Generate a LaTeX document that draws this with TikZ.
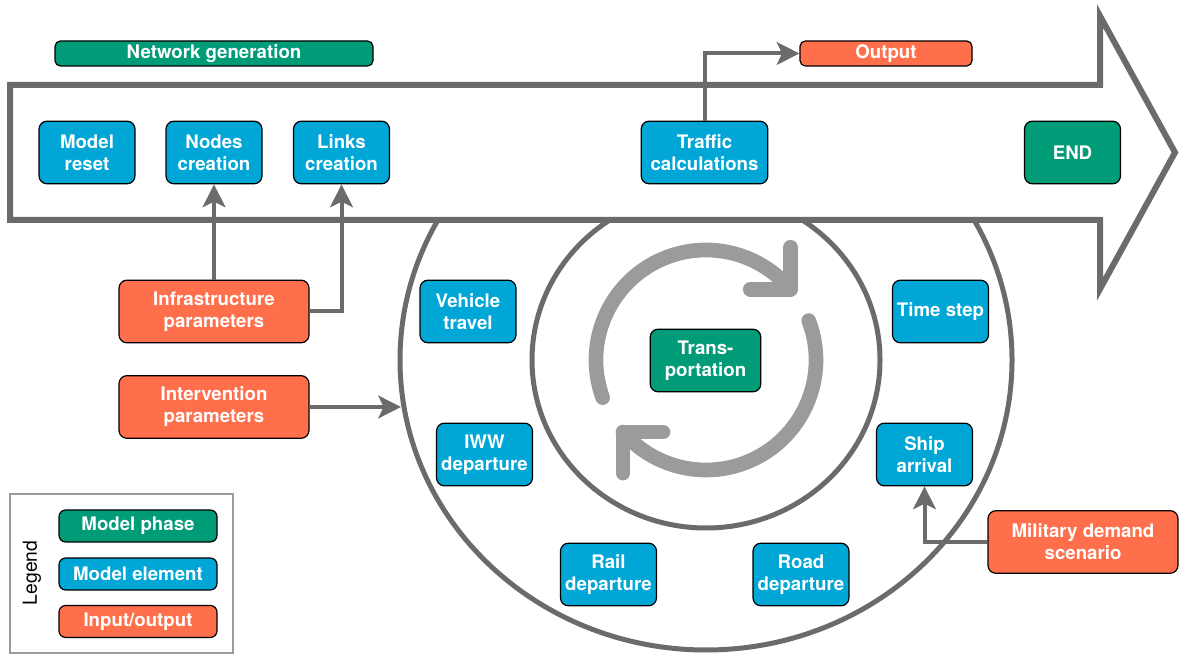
\documentclass[tikz,border=0pt]{standalone}
\usepackage{fontspec}
\setmainfont{TeX Gyre Heros}
\usepackage{tikz}
\usetikzlibrary{arrows.meta,calc,positioning}
\definecolor{phase}{HTML}{009B77}
\definecolor{element}{HTML}{00A6D6}
\definecolor{inout}{HTML}{FF6F4B}
\definecolor{frame}{HTML}{6B6B6B}
\definecolor{cyclegray}{HTML}{9B9B9B}

\begin{document}
\begin{tikzpicture}[x=0.75pt, y=0.75pt,
    >={Stealth[length=17pt,width=17pt,inset=4pt]},
    box/.style={draw=black, line width=0.9pt, rounded corners=6pt, text=white,
      font=\fontsize{14}{16.5}\selectfont\bfseries, align=center, inner sep=0pt,
      minimum width=72pt, minimum height=47pt},
    bar/.style={box, rounded corners=4pt, minimum height=18.75pt},
    key/.style={box, rounded corners=5pt, minimum width=118.5pt, minimum height=24pt},
    conn/.style={draw=frame, line width=3pt, ->},
    ring/.style={draw=frame, line width=3.75pt},
    turn/.style={draw=cyclegray, line width=11pt, line cap=round, line join=round}]
  \useasboundingbox (0,0) rectangle (1180,655);
  \begin{scope}
    \clip (0,0) rectangle (1180,435);
    \draw[ring] (706,295) ellipse[x radius=306, y radius=290];
    \draw[ring] (706,295) ellipse[x radius=174, y radius=168];
  \end{scope}
  \draw[frame, line width=4.5pt] (10,570) -- (1100,570) -- (1100,639) -- (1175,502.5)
    -- (1100,366) -- (1100,435) -- (10,435) -- cycle;
  \coordinate (hub) at (706,295);
  \draw[turn] ($(hub)+(200:110)$) arc[start angle=200, end angle=40, radius=110];
  \draw[turn] ($(hub)+(40:110)+(0,42)$) -- ($(hub)+(40:110)$) -- ++(-40,0);
  \draw[turn] ($(hub)+(21:110)$) arc[start angle=21, end angle=-139, radius=110];
  \draw[turn] ($(hub)+(-139:110)+(0,-41)$) -- ($(hub)+(-139:110)$) -- ++(40,0);
  \node[bar, fill=phase, minimum width=238.5pt] (netgen) at (214,601.5) {Network generation};
  \node[bar, fill=inout, minimum width=129pt] (output) at (886,601.5) {Output};
  \node[box, fill=element] (reset) at (87,502.5) {Model\\reset};
  \node[box, fill=element] (nodes) at (214,502.5) {Nodes\\creation};
  \node[box, fill=element] (links) at (341.5,502.5) {Links\\creation};
  \node[box, fill=element, minimum width=95pt] (traffic) at (704.5,502.5) {Traffic\\calculations};
  \node[box, fill=phase] (end) at (1072.5,502.5) {END};
  \node[box, fill=inout, minimum width=142.5pt] (infra) at (214,343.5) {Infrastructure\\parameters};
  \node[box, fill=inout, minimum width=142.5pt] (interv) at (214,248) {Intervention\\parameters};
  \node[box, fill=element] (vehicle) at (468,343.5) {Vehicle\\travel};
  \node[box, fill=element] (iww) at (484.5,200.5) {IWW\\departure};
  \node[box, fill=phase, minimum width=83pt] (transport) at (705.5,294.5) {Trans-\\portation};
  \node[box, fill=element] (timestep) at (940.5,343.5) {Time step};
  \node[box, fill=element] (ship) at (924.5,200.5) {Ship\\arrival};
  \node[box, fill=element] (rail) at (608.5,80.5) {Rail\\departure};
  \node[box, fill=element] (road) at (801,80.5) {Road\\departure};
  \node[box, fill=inout, minimum width=142.5pt] (military) at (1083,113) {Military demand\\scenario};
  \coordinate (ringW) at (401,248);
  \draw[conn] (infra) -- (nodes);
  \draw[conn] (infra.east) -| (links.south);
  \draw[conn] (traffic.north) |- (output.west);
  \draw[conn] (interv.east) -- (ringW);
  \draw[conn] (military.west) -| (ship.south);
  \draw[draw=cyclegray, line width=1.1pt] (10,2) rectangle (233,161);
  \node[rotate=90, font=\fontsize{14.5}{16}\selectfont] (legend) at (32,82) {Legend};
  \node[key, fill=phase] (kphase) at (138,129) {Model phase};
  \node[key, fill=element] (kelement) at (138,81) {Model element};
  \node[key, fill=inout] (kinout) at (138,33.5) {Input/output};
\end{tikzpicture}
\end{document}
